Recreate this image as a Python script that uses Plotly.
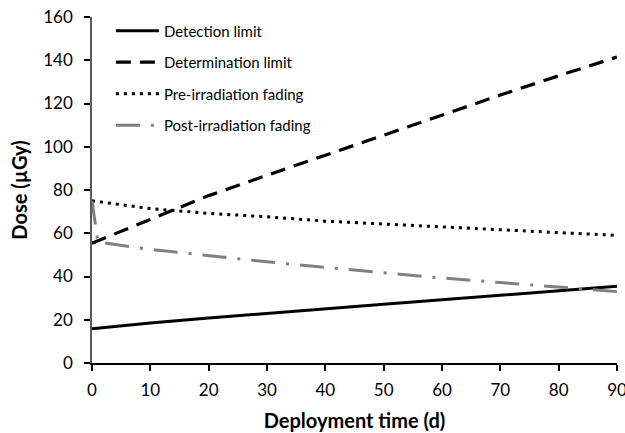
import plotly.graph_objects as go

days = [0, 10, 20, 30, 40, 50, 60, 70, 80, 90]
detection = [15.8, 18.5, 20.8, 23.0, 25.1, 27.2, 29.2, 31.3, 33.4, 35.5]
determination = [55.4, 66.5, 77.4, 86.8, 96.1, 105.4, 114.6, 123.9, 132.8, 141.5]
pre_fading = [75.0, 71.4, 69.2, 67.6, 65.6, 64.2, 62.9, 61.6, 60.3, 59.0]
post_days = [0, 1, 10, 20, 30, 40, 50, 60, 70, 80, 90]
post_fading = [75.0, 56.0, 52.5, 49.5, 46.8, 44.2, 41.7, 39.3, 37.2, 35.0, 33.0]

FONT = "Lato"

fig = go.Figure()
fig.add_trace(go.Scatter(x=days, y=detection, mode="lines", name="Detection limit",
                         legendgroup="a",
                         line=dict(color="black", width=3)))
fig.add_trace(go.Scatter(x=days, y=determination, mode="lines", name="Determination limit",
                         legendgroup="b",
                         line=dict(color="black", width=3.2, dash="15px,9px")))
fig.add_trace(go.Scatter(x=days, y=pre_fading, mode="lines", name="Pre-irradiation fading",
                         legendgroup="c",
                         line=dict(color="black", width=3, dash="3px,5px")))
fig.add_trace(go.Scatter(x=post_days, y=post_fading, mode="lines", name="Post-irradiation fading",
                         legendgroup="d",
                         line=dict(color="#808080", width=3, dash="24px,11px,3px,11px")))

fig.update_layout(
    width=625, height=433,
    margin=dict(l=92, r=8, t=17, b=70, autoexpand=False),
    paper_bgcolor="white", plot_bgcolor="white",
    font=dict(family=FONT, color="black"),
    legend=dict(x=0.036, y=1.0075, xanchor="left", yanchor="top",
                font=dict(size=15, family=FONT, color="black"),
                bgcolor="rgba(0,0,0,0)", traceorder="grouped",
                tracegroupgap=9, itemwidth=43),
    xaxis=dict(range=[0, 90], tickvals=list(range(0, 91, 10)),
               showgrid=False, zeroline=False, automargin=False,
               ticklabeloverflow="allow", ticklabelstandoff=5,
               showline=True, linecolor="black", linewidth=1.5,
               ticks="outside", ticklen=6, tickcolor="black", tickwidth=1.5,
               tickfont=dict(size=17, family=FONT),
               title=dict(text="<b>Deployment time (d)</b>", font=dict(size=20, family=FONT),
                          standoff=15)),
    yaxis=dict(range=[0, 160], tickvals=list(range(0, 161, 20)),
               showgrid=False, zeroline=False, automargin=False,
               ticklabeloverflow="allow", ticklabelstandoff=8,
               showline=True, linecolor="#5a5a5a", linewidth=1.5,
               ticks="outside", ticklen=6, tickcolor="black", tickwidth=1.5,
               tickfont=dict(size=17, family=FONT),
               title=dict(text="<b>Dose (µGy)</b>", font=dict(size=20, family=FONT),
                          standoff=10)),
)

fig.write_html("out.html", config={"displayModeBar": False},
               post_script="document.body.style.margin='0px';")
